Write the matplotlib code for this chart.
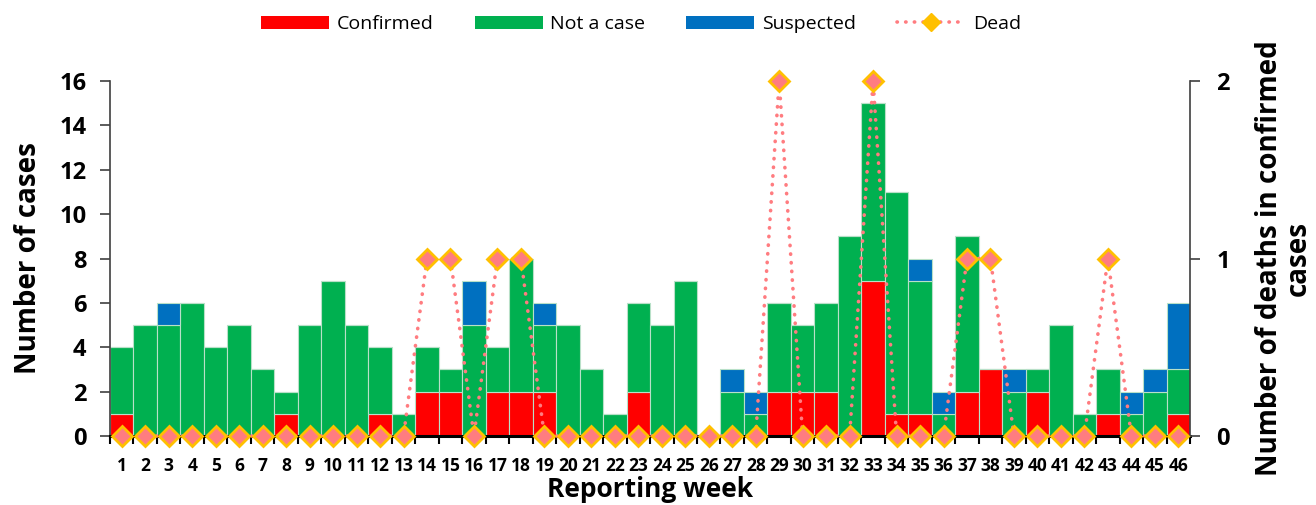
import matplotlib
matplotlib.use("Agg")
import matplotlib.pyplot as plt
import numpy as np
from matplotlib.patches import Patch
from matplotlib.lines import Line2D

plt.rcParams['font.family'] = ['Open Sans', 'DejaVu Sans']

weeks = list(range(1, 47))
confirmed = [1, 0, 0, 0, 0, 0, 0, 1, 0, 0, 0, 1, 0, 2, 2, 0, 2, 2, 2, 0,
             0, 0, 2, 0, 0, 0, 0, 0, 2, 2, 2, 0, 7, 1, 1, 0, 2, 3, 0, 2,
             0, 0, 1, 0, 0, 1]
not_case = [3, 5, 5, 6, 4, 5, 3, 1, 5, 7, 5, 3, 1, 2, 1, 5, 2, 6, 3, 5,
            3, 1, 4, 5, 7, 0, 2, 1, 4, 3, 4, 9, 8, 10, 6, 1, 7, 0, 2, 1,
            5, 1, 2, 1, 2, 2]
suspected = [0, 0, 1, 0, 0, 0, 0, 0, 0, 0, 0, 0, 0, 0, 0, 2, 0, 0, 1, 0,
             0, 0, 0, 0, 0, 0, 1, 1, 0, 0, 0, 0, 0, 0, 1, 1, 0, 0, 1, 0,
             0, 0, 0, 1, 1, 3]
dead = [0, 0, 0, 0, 0, 0, 0, 0, 0, 0, 0, 0, 0, 1, 1, 0, 1, 1, 0, 0,
        0, 0, 0, 0, 0, 0, 0, 0, 2, 0, 0, 0, 2, 0, 0, 0, 1, 1, 0, 0,
        0, 0, 1, 0, 0, 0]

RED, GREEN, BLUE = "#FF0000", "#00B050", "#0070C0"
LINE, GOLD = "#FF7C80", "#FFC000"
DOTS = (0, (0.1, 2.3))

x = np.array(weeks)
c = np.array(confirmed)
n = np.array(not_case)
s = np.array(suspected)

fig = plt.figure(figsize=(13.16, 5.05), dpi=100)
ax = fig.add_axes([0.0836, 0.1366, 0.8207, 0.703])

edge = dict(width=1.0, edgecolor="#B8E0C8", linewidth=0.8)
ax.bar(x, c, color=RED, **edge)
ax.bar(x, n, bottom=c, color=GREEN, **edge)
ax.bar(x, s, bottom=c + n, color=BLUE, **edge)

ax.set_xlim(0.5, 46.5)
ax.set_ylim(0, 16)
ax.set_yticks(range(0, 17, 2))
ax.set_xticks(x)
ax.set_xticklabels([str(w) for w in weeks], fontsize=12.5, fontweight="bold")
ax.set_xticks(np.arange(0.5, 47, 1), minor=True)
ax.tick_params(axis="x", which="major", length=0, pad=15)
ax.tick_params(axis="x", which="minor", length=6, width=1.5, direction="out",
               color="black")
ax.tick_params(axis="y", labelsize=17, length=7, width=1.2, color="#404040",
               pad=10)
for lab in ax.get_yticklabels():
    lab.set_fontweight("bold")
ax.spines["top"].set_visible(False)
ax.spines["right"].set_visible(False)
ax.spines["bottom"].set_linewidth(2.2)
ax.spines["left"].set_color("#404040")
ax.spines["left"].set_linewidth(1.2)
ax.set_ylabel("Number of cases", fontsize=20, fontweight="bold", labelpad=12)
ax.set_xlabel("Reporting week", fontsize=19, fontweight="bold", labelpad=1)

ax2 = ax.twinx()
ax2.plot(x, dead, linestyle=DOTS, dash_capstyle="round",
         color=LINE, linewidth=2.6, marker="D", markersize=10,
         markerfacecolor=LINE, markeredgecolor=GOLD, markeredgewidth=2,
         clip_on=False, zorder=5)
ax2.set_ylim(0, 2)
ax2.set_yticks([0, 1, 2])
ax2.tick_params(axis="y", labelsize=17, length=7, width=1.2, color="#404040",
                pad=12)
for lab in ax2.get_yticklabels():
    lab.set_fontweight("bold")
ax2.spines["top"].set_visible(False)
ax2.spines["left"].set_visible(False)
ax2.spines["bottom"].set_visible(False)
ax2.spines["right"].set_color("#404040")
ax2.spines["right"].set_linewidth(1.2)
ax2.set_ylabel("Number of deaths in confirmed\ncases", fontsize=20,
               fontweight="bold", labelpad=18, linespacing=1.0)

handles = [
    Patch(facecolor=RED, label="Confirmed"),
    Patch(facecolor=GREEN, label="Not a case"),
    Patch(facecolor=BLUE, label="Suspected"),
    Line2D([0], [0], linestyle=DOTS, dash_capstyle="round",
           color=LINE, linewidth=2.6, marker="D", markersize=9,
           markerfacecolor=GOLD, markeredgecolor=GOLD, markeredgewidth=1,
           label="Dead"),
]
fig.legend(handles=handles, loc="center", bbox_to_anchor=(0.487, 0.952),
           ncol=4, frameon=False, fontsize=14, handlelength=3.5,
           handleheight=0.7, columnspacing=2.1, handletextpad=0.4)

fig.savefig("out.png", dpi=100)
